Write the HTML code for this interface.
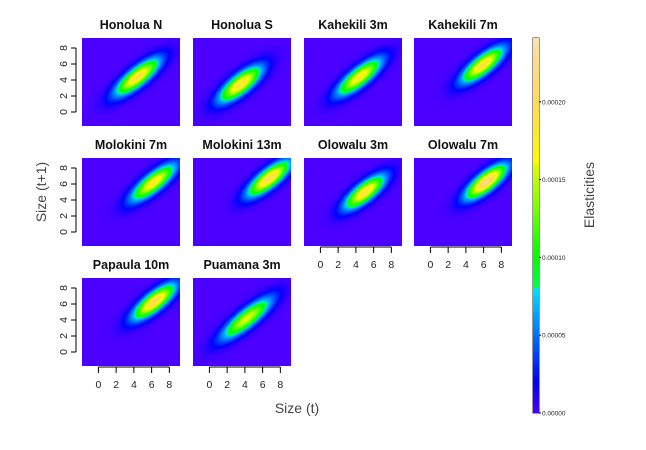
<!DOCTYPE html>
<html><head><meta charset="utf-8"><style>
body{margin:0;background:#fff;width:646px;height:450px;overflow:hidden;position:relative;font-family:"Liberation Sans",sans-serif}
canvas{position:absolute}
svg{position:absolute;left:0;top:0}
</style></head><body>
<svg id="s" width="646" height="450"></svg>
<script>
const sites=["Honolua N","Honolua S","Kahekili 3m","Kahekili 7m","Molokini 7m","Molokini 13m","Olowalu 3m","Olowalu 7m","Papaula 10m","Puamana 3m"];
const peakVal=[0.00019,0.00019,0.00018,0.00019,0.00018,0.00020,0.00019,0.00022,0.00020,0.00016];
const peakCenter=[4.4,3.5,4.4,5.9,6.2,6.7,5.0,6.3,6.3,4.2];
const spreadAlong=[2.2,2.1,2.2,2.1,2.2,2.1,2.0,2.0,2.1,2.5];
const spreadAcross=[0.72,0.76,0.72,0.72,0.72,0.72,0.72,0.72,0.72,0.72];
const yTicks=[0,2,4,6,8];
const xTicks=[0,2,4,6,8];
const cbTicks=[0,0.00005,0.0001,0.00015,0.0002];
const zMax=0.000241;
const xDom=[-1.85,9.2],yDom=[-1.75,9.25];
const PW=98,PH=88;
const colX=[82,193,304,414],rowY=[38,158,278];
const NS="http://www.w3.org/2000/svg";
const svg=document.getElementById('s');
function hsv(h,s,v){let i=Math.floor(h*6),f=h*6-i,p=v*(1-s),q=v*(1-f*s),t=v*(1-(1-f)*s);let r,g,b;switch(i%6){case 0:r=v;g=t;b=p;break;case 1:r=q;g=v;b=p;break;case 2:r=p;g=v;b=t;break;case 3:r=p;g=q;b=v;break;case 4:r=t;g=p;b=v;break;default:r=v;g=p;b=q}return[r*255,g*255,b*255];}
function topo(z){let t=Math.max(0,Math.min(1,z/zMax));
 if(t<1/3){let a=t*3;return hsv((43-12*a)/60,1,1);}
 if(t<2/3){let a=(t-1/3)*3;return hsv((23-12*a)/60,1,1);}
 let a=(t-2/3)*3;return hsv((10-4*a)/60,1-0.7*a,1);}
function el(tag,at,txt){const e=document.createElementNS(NS,tag);for(const k in at)e.setAttribute(k,at[k]);if(txt!==undefined)e.textContent=txt;svg.appendChild(e);return e;}
const sx=(x0,v)=>x0+(v-xDom[0])/(xDom[1]-xDom[0])*PW;
const sy=(y0,v)=>y0+PH-(v-yDom[0])/(yDom[1]-yDom[0])*PH;
sites.forEach((name,i)=>{
 const c=i%4,r=Math.floor(i/4),x0=colX[c],y0=rowY[r];
 const cv=document.createElement('canvas');cv.width=PW;cv.height=PH;cv.style.left=x0+'px';cv.style.top=y0+'px';
 
 
 document.body.appendChild(cv);
 const ctx=cv.getContext('2d'),img=ctx.createImageData(PW,PH);
 const ang=0.74,ca=Math.cos(ang),sa=Math.sin(ang);
 for(let py=0;py<PH;py++)for(let px=0;px<PW;px++){
  const x=xDom[0]+(px+0.5)/PW*(xDom[1]-xDom[0]),y=yDom[1]-(py+0.5)/PH*(yDom[1]-yDom[0]);
  const dx=x-peakCenter[i],dy=y-peakCenter[i];
  const u=dx*ca+dy*sa,v=dy*ca-dx*sa;
  const z=peakVal[i]*Math.exp(-(u*u/(2*spreadAlong[i]**2)+v*v/(2*spreadAcross[i]**2)));
  const col=topo(z),k=(py*PW+px)*4;img.data[k]=col[0];img.data[k+1]=col[1];img.data[k+2]=col[2];img.data[k+3]=255;}
 ctx.putImageData(img,0,0);
 const t=el('text',{x:x0+PW/2,y:y0-9,'text-anchor':'middle','font-size':'12.5','font-weight':'bold',fill:'#111'},name);
 
 if(c===0){const ax=x0-6;
  const l=el('line',{x1:ax,x2:ax,y1:sy(y0,yTicks[0]),y2:sy(y0,yTicks[yTicks.length-1]),stroke:'#000'});
  
  yTicks.forEach(v=>{const yy=sy(y0,v);el('line',{x1:ax-5,x2:ax,y1:yy,y2:yy,stroke:'#000'});
   const tl=el('text',{x:ax-9,y:yy,'font-size':'10.5','text-anchor':'middle',transform:`rotate(-90 ${ax-9} ${yy})`,fill:'#222'},v);
   });}
 if(r===2||(r===1&&c>=2)){const ay=y0+PH+1;
  const l=el('line',{x1:sx(x0,xTicks[0]),x2:sx(x0,xTicks[xTicks.length-1]),y1:ay,y2:ay,stroke:'#000'});
  
  xTicks.forEach(v=>{const xx=sx(x0,v);el('line',{x1:xx,x2:xx,y1:ay,y2:ay+6,stroke:'#000'});
   const tl=el('text',{x:xx,y:ay+21,'font-size':'10.5','text-anchor':'middle',fill:'#222'},v);
   });}
});
let a=el('text',{x:46,y:192,'font-size':'14','text-anchor':'middle',transform:'rotate(-90 46 192)',fill:'#444'},'Size (t+1)');

a=el('text',{x:297,y:413,'font-size':'14','text-anchor':'middle',fill:'#444'},'Size (t)');

a=el('text',{x:594,y:195,'font-size':'14','text-anchor':'middle',transform:'rotate(-90 594 195)',fill:'#444'},'Elasticities');

const cbX=533,cbW=6,cbTop=38,cbBot=413;
const cb=document.createElement('canvas');cb.width=cbW;cb.height=cbBot-cbTop;cb.style.left=cbX+'px';cb.style.top=cbTop+'px';


document.body.appendChild(cb);
const cctx=cb.getContext('2d');
for(let py=0;py<cbBot-cbTop;py++){const z=(1-(py+0.5)/(cbBot-cbTop))*zMax;const col=topo(z);cctx.fillStyle=`rgb(${col[0]|0},${col[1]|0},${col[2]|0})`;cctx.fillRect(0,py,cbW,1);}
el('rect',{x:cbX,y:cbTop,width:cbW,height:cbBot-cbTop,fill:'none',stroke:'#000','stroke-width':'0.8'});
cbTicks.forEach(v=>{const yy=cbBot-v/zMax*(cbBot-cbTop);el('line',{x1:cbX+cbW,x2:cbX+cbW+2,y1:yy,y2:yy,stroke:'#000'});
 const tl=el('text',{x:cbX+cbW+3,y:yy+2.5,'font-size':'6.5',fill:'#222'},v.toFixed(5));
 });
</script>
</body></html>
